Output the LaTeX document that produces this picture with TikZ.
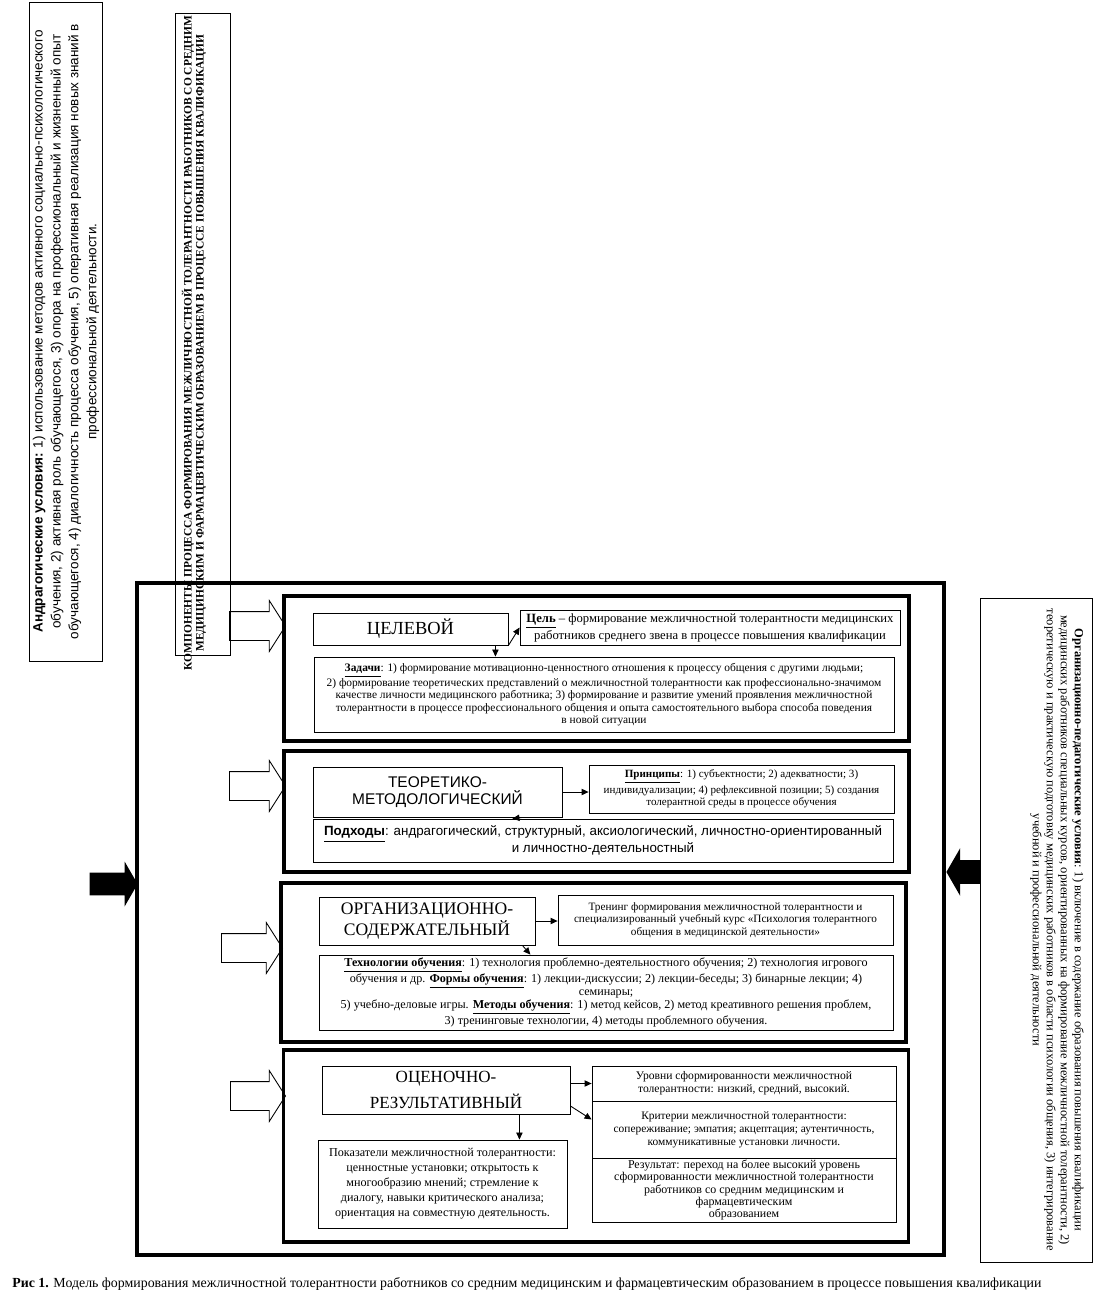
\documentclass[tikz,border=0pt]{standalone}
\usepackage{fontspec}
\setmainfont{Liberation Serif}
\setsansfont{Liberation Sans}
\usepackage{tikz}
\usetikzlibrary{arrows.meta, positioning, shapes.arrows}

\begin{document}
\begin{tikzpicture}[x=0.02cm, y=-0.02cm,
    box/.style={draw, line width=0.5pt, align=center, inner sep=1pt},
    sect/.style={draw, line width=2.2pt, minimum width=12.5cm},
    hollow/.style={single arrow, draw, line width=0.5pt, inner sep=0pt, inner ysep=0.28cm, minimum width=1cm, single arrow head extend=0.22cm, single arrow tip angle=115},
    blackarrow/.style={single arrow, fill=black, inner sep=0pt, inner ysep=0.22cm, minimum width=0.88cm, single arrow head extend=0.22cm, single arrow tip angle=120},
    arr/.style={-{Triangle[length=4pt,width=3.6pt]}, line width=0.5pt}]
      \useasboundingbox (0,0) rectangle (1101,1301);

      \node[draw, line width=2.6pt, minimum width=16.14cm, minimum height=13.44cm] (frame) at (540.5,919) {};

      \node[draw, line width=0.5pt, rotate=90, minimum width=13.18cm, minimum height=1.44cm, align=center, inner sep=2pt, font=\sffamily\fontsize{7.7}{10.2}\selectfont] (andr) at (66,331.5) {\textbf{Андрагогические условия:} 1) использование методов активного социально-психологического\\ обучения, 2) активная роль обучающегося, 3) опора на профессиональный и жизненный опыт\\ обучающегося, 4) диалогичность процесса обучения, 5) оперативная реализация новых знаний в\\ профессиональной деятельности.};

      \node[draw, line width=0.5pt, minimum width=1.1cm, minimum height=12.84cm] (comp) at (202.5,334) {};
      \node[rotate=90, align=center, font=\bfseries\fontsize{6.5}{6.8}\selectfont] (comptext) at (194,343) {КОМПОНЕНТЫ ПРОЦЕССА ФОРМИРОВАНИЯ МЕЖЛИЧНОСТНОЙ ТОЛЕРАНТНОСТИ РАБОТНИКОВ СО СРЕДНИМ\\ МЕДИЦИНСКИМ И ФАРМАЦЕВТИЧЕСКИМ ОБРАЗОВАНИЕМ В ПРОЦЕССЕ ПОВЫШЕНИЯ КВАЛИФИКАЦИИ};

      \node[draw, line width=0.5pt, minimum width=2.24cm, minimum height=13.28cm] (orgcond) at (1036,930) {};
      \node[rotate=-90, align=center, font=\fontsize{7.1}{8}\selectfont] (orgtext) at (1057,930) {\textbf{Организационно-педагогические условия}: 1) включение в содержание образования повышения квалификации\\ медицинских работников специальных курсов, ориентированных на формирование межличностной толерантности, 2)\\ теоретическую и практическую подготовку медицинских работников в области психологии общения, 3) интегрирование\\ учебной и профессиональной деятельности};

      \foreach \n/\x/\y/\h in {sec1/596.5/668.5/2.9, sec2/596.5/811.5/2.42, sec3/593.5/962.5/3.18, sec4/596/1146/3.84} {
        \node[sect, minimum height=\h cm] (\n) at (\x,\y) {};
      }
      \foreach \n/\x/\y/\l in {in1/286/626/1.12, in2/286/786/1.12, in3/283/948/1.22, in4/286/1096/1.1} {
        \node[hollow, minimum height=\l cm, anchor=tip] (\n) at (\x,\y) {};
      }
      \node[blackarrow, minimum height=0.96cm, anchor=tip] (pushl) at (138,884) {};
      \node[blackarrow, shape border rotate=180, inner ysep=0.23cm, minimum height=0.68cm, minimum width=0.94cm, single arrow head extend=0.24cm, anchor=tip] (pushr) at (946,872) {};

      \node[box, minimum width=3.9cm, minimum height=0.64cm, font=\fontsize{10.5}{12}\selectfont] (celevoy) at (410.5,629) {ЦЕЛЕВОЙ};
      \node[box, minimum width=7.6cm, minimum height=0.7cm, font=\fontsize{7.2}{8}\selectfont] (cel) at (710,627.5) {\underline{\textbf{Цель}} – формирование межличностной толерантности медицинских\\ работников среднего звена в процессе повышения квалификации};
      \node[box, minimum width=11.6cm, minimum height=1.5cm, font=\fontsize{6.5}{6.9}\selectfont] (zadachi) at (604,694.5) {\underline{\textbf{Задачи}}: 1) формирование мотивационно-ценностного отношения к процессу общения с другими людьми;\\ 2) формирование теоретических представлений о межличностной толерантности как профессионально-значимом\\ качестве личности медицинского работника; 3) формирование и развитие умений проявления межличностной\\ толерантности в процессе профессионального общения и опыта самостоятельного выбора способа поведения\\ в новой ситуации};

      \node[box, minimum width=4.98cm, minimum height=1cm, font=\sffamily\fontsize{8.8}{9.7}\selectfont] (teor) at (437.5,792) {ТЕОРЕТИКО-\\ МЕТОДОЛОГИЧЕСКИЙ};
      \node[box, minimum width=6.1cm, minimum height=0.96cm, font=\fontsize{6.3}{7.2}\selectfont] (princ) at (741.5,789) {\underline{\textbf{Принципы}}: 1) субъектности; 2) адекватности; 3)\\ индивидуализации; 4) рефлексивной позиции; 5) создания\\ толерантной среды в процессе обучения};
      \node[box, minimum width=11.6cm, minimum height=0.86cm, font=\sffamily\fontsize{7.6}{9.5}\selectfont] (podh) at (603,840.5) {\underline{\textbf{Подходы}}: андрагогический, структурный, аксиологический, личностно-ориентированный\\ и личностно-деятельностный};

      \node[box, minimum width=4.32cm, minimum height=0.96cm, font=\fontsize{10}{11.5}\selectfont] (orgs) at (427,921) {ОРГАНИЗАЦИОННО-\\ СОДЕРЖАТЕЛЬНЫЙ};
      \node[box, minimum width=6.7cm, minimum height=1cm, font=\fontsize{6.4}{7.1}\selectfont] (trening) at (725.5,920) {Тренинг формирования межличностной толерантности и\\ специализированный учебный курс «Психология толерантного\\ общения в медицинской деятельности»};
      \node[box, minimum width=11.48cm, minimum height=1.5cm, font=\fontsize{6.9}{7.3}\selectfont] (tehn) at (606,992.5) {\underline{\textbf{Технологии обучения}}: 1) технология проблемно-деятельностного обучения; 2) технология игрового\\ обучения и др. \underline{\textbf{Формы обучения}}: 1) лекции-дискуссии; 2) лекции-беседы; 3) бинарные лекции; 4)\\ семинары;\\ 5) учебно-деловые игры. \underline{\textbf{Методы обучения}}: 1) метод кейсов, 2) метод креативного решения проблем,\\ 3) тренинговые технологии, 4) методы проблемного обучения.};

      \node[box, minimum width=4.96cm, minimum height=0.96cm, font=\fontsize{9.7}{15}\selectfont] (ocen) at (446,1090) {ОЦЕНОЧНО-\\ РЕЗУЛЬТАТИВНЫЙ};
      \node[box, minimum width=6.08cm, minimum height=0.7cm, font=\fontsize{6.6}{7.6}\selectfont] (urovni) at (744,1083.5) {Уровни сформированности межличностной\\ толерантности: низкий, средний, высокий.};
      \node[box, minimum width=6.08cm, minimum height=1.14cm, font=\fontsize{6.5}{7.4}\selectfont] (kriter) at (744,1129.5) {Критерии межличностной толерантности:\\ сопереживание; эмпатия; акцептация; аутентичность,\\ коммуникативные установки личности.};
      \node[box, minimum width=6.08cm, minimum height=1.28cm, font=\fontsize{6.8}{6.9}\selectfont] (result) at (744,1190) {Результат: переход на более высокий уровень\\ сформированности межличностной толерантности\\ работников со средним медицинским и\\ фармацевтическим\\ образованием};
      \node[box, minimum width=4.98cm, minimum height=1.76cm, font=\fontsize{6.9}{8.5}\selectfont] (pokaz) at (442.5,1184) {Показатели межличностной толерантности:\\ ценностные установки; открытость к\\ многообразию мнений; стремление к\\ диалогу, навыки критического анализа;\\ ориентация на совместную деятельность.};

      \draw[arr] (celevoy.south east) -- (cel.west);
      \draw[arr] ([xshift=-0.26cm]celevoy.south east) -- ([xshift=-0.26cm]celevoy.south east |- zadachi.north);
      \draw[arr] (teor.east) -- (teor.east -| princ.west);
      \draw[arr] ([xshift=-0.8cm]teor.south east) -- ([xshift=-1cm]teor.south east |- podh.north);
      \draw[arr] (orgs.east) -- (orgs.east -| trening.west);
      \draw[arr] ([xshift=-0.26cm]orgs.south east) -- ([xshift=-0.1cm]orgs.south east |- tehn.north);
      \draw[arr] (ocen.east |- urovni.west) -- (urovni.west);
      \draw[arr] ([yshift=-0.32cm]ocen.east) -- ([yshift=0.2cm]kriter.west);
      \draw[arr] ([xshift=-1.02cm]ocen.south east) -- ([xshift=-1.02cm]ocen.south east |- pokaz.north);

      \node[anchor=west, inner sep=0pt, font=\fontsize{7.9}{9}\selectfont] (caption) at (12,1284) {\textbf{Рис 1.} Модель формирования межличностной толерантности работников со средним медицинским и фармацевтическим образованием в процессе повышения квалификации};
    \end{tikzpicture}
\end{document}
